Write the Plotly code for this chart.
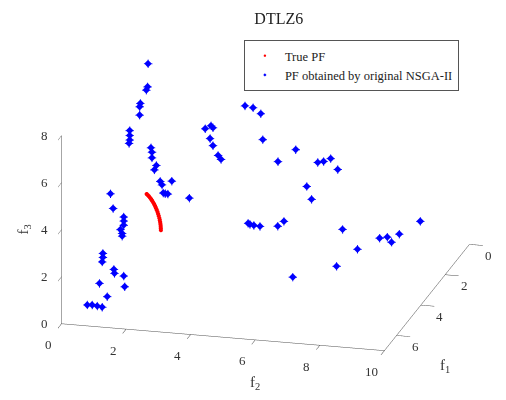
import plotly.graph_objects as go

# True Pareto front of DTLZ6 (quarter arc with f1 = f2)
pf_f1 = [0.7071, 0.7049, 0.6984, 0.6876, 0.6725, 0.6533, 0.6300, 0.6029, 0.5721, 0.5377, 0.5000,
         0.4592, 0.4156, 0.3695, 0.3210, 0.2706, 0.2185, 0.1651, 0.1106, 0.0555, 0.0]
pf_f2 = [0.7071, 0.7049, 0.6984, 0.6876, 0.6725, 0.6533, 0.6300, 0.6029, 0.5721, 0.5377, 0.5000,
         0.4592, 0.4156, 0.3695, 0.3210, 0.2706, 0.2185, 0.1651, 0.1106, 0.0555, 0.0]
pf_f3 = [0.0, 0.0785, 0.1564, 0.2334, 0.3090, 0.3827, 0.4540, 0.5225, 0.5878, 0.6494, 0.7071,
         0.7604, 0.8090, 0.8526, 0.8910, 0.9239, 0.9511, 0.9724, 0.9877, 0.9969, 1.0]

# Final population of the original NSGA-II
ns_f1 = [0.42, 0.72, 0.96, 1.59, 1.64, 1.78, 2.73, 2.73, 2.86, 2.91,
         0.21, 0.26, 0.26, 0.48, 0.38, 0.67, 0.76, 1.25, 0.92, 0.82, 1.05, 2.12,
         4.58, 4.36, 4.55, 4.55, 4.55, 4.55, 4.68, 4.68, 5.47, 5.47, 5.52,
         5.63, 5.58, 5.61, 5.53, 5.48, 5.91, 6.22, 6.08, 5.93, 5.79,
         1.0, 1.0, 1.0,
         0.5, 0.5, 0.5, 0.5, 0.5, 0.5, 0.5,
         1.5, 1.5, 1.5,
         2.0, 2.0, 2.0, 2.0, 2.0, 2.0,
         2.5, 2.5, 2.5, 2.5, 2.5, 2.5,
         4.0, 3.0, 2.0, 2.0,
         1.0, 1.0, 1.0, 1.0, 1.0]
ns_f2 = [0.20, 0.30, 0.35, 0.40, 0.40, 0.45, 0.50, 0.50, 0.55, 0.55,
         0.21, 0.26, 0.26, 0.48, 0.38, 0.67, 0.76, 1.25, 0.92, 0.82, 1.05, 2.12,
         0.60, 0.60, 1.00, 1.00, 1.00, 0.90, 1.00, 1.00, 0.70, 0.70, 0.70,
         1.10, 1.10, 1.40, 1.40, 0.60, 1.00, 0.50, 0.60, 0.70, 0.80,
         3.42, 3.67, 3.91,
         2.00, 2.18, 2.24, 2.15, 2.24, 2.40, 2.49,
         4.16, 4.63, 5.18,
         6.05, 6.23, 6.45, 6.67, 5.71, 5.86,
         4.08, 4.14, 4.26, 4.45, 5.00, 5.19,
         6.03, 7.01, 6.82, 7.28,
         7.59, 7.83, 7.96, 8.20, 8.85]
ns_f3 = [6.84, 6.06, 6.08, 5.93, 5.82, 5.56, 5.52, 5.31, 5.21, 5.10,
         3.13, 2.98, 2.74, 2.58, 2.32, 2.05, 1.97, 2.50, 1.72, 1.67, 1.80, 2.44,
         4.04, 3.27, 3.08, 2.91, 2.73, 2.53, 2.46, 2.35, 2.09, 1.92, 1.76,
         1.56, 1.36, 1.30, 0.79, 0.81, 0.57, 0.36, 0.28, 0.15, 0.02,
         5.79, 5.74, 5.51,
         4.33, 4.48, 4.40, 3.93, 3.64, 3.24, 3.08,
         4.76, 3.88, 4.45,
         4.33, 4.39, 4.54, 4.10, 3.27, 2.74,
         1.84, 1.80, 1.77, 1.75, 1.82, 2.05,
         0.74, 0.67, 1.57, 0.78,
         0.64, 0.71, 0.51, 0.88, 1.50]

f1_ticks = [0, 2, 4, 6]
f2_ticks = [0, 2, 4, 6, 8, 10]
f3_ticks = [0, 2, 4, 6, 8]
F1_MAX, F2_MAX, F3_MAX = 7, 10, 8

serif = "Liberation Serif"
axis_color = "#4d4d4d"
text_color = "#333333"

fig = go.Figure()
fig.add_trace(go.Scatter3d(
    x=pf_f1, y=pf_f2, z=pf_f3, mode="markers", name="True PF",
    marker=dict(symbol="circle", size=2.4, color="#ff0000", line=dict(width=0)),
))
fig.add_trace(go.Scatter3d(
    x=ns_f1, y=ns_f2, z=ns_f3, mode="markers", name="PF obtained by original NSGA-II",
    marker=dict(symbol="diamond", size=2.5, color="#0000ff", line=dict(width=0)),
))
# star-shaped overlay so each marker reads like an asterisk
fig.add_trace(go.Scatter3d(
    x=ns_f1, y=ns_f2, z=ns_f3, mode="markers", showlegend=False, hoverinfo="skip",
    marker=dict(symbol="cross", size=4.6, color="#0000ff", line=dict(width=0)),
))


def axis(rng, ticks):
    return dict(
        title=dict(text=""),
        range=rng, tickvals=ticks, autorange=False,
        showticklabels=False,
        showgrid=False, zeroline=False, showbackground=False, showspikes=False,
        showline=True, linecolor=axis_color, linewidth=1,
        ticks="outside", ticklen=14, tickwidth=1, tickcolor="#333333",
    )


tick_font = dict(family=serif, size=13, color=text_color)
title_font = dict(family=serif, size=15, color=text_color)
annotations = []
for v in f3_ticks:
    annotations.append(dict(x=F1_MAX, y=0, z=v, text=str(v), showarrow=False,
                            xanchor="right", yanchor="middle", xshift=-12, font=tick_font))
for v in f2_ticks:
    annotations.append(dict(x=F1_MAX, y=v, z=0, text=str(v), showarrow=False,
                            xanchor="center", yanchor="middle", xshift=-13, yshift=-21,
                            font=tick_font))
for v in f1_ticks:
    annotations.append(dict(x=v, y=F2_MAX, z=0, text=str(v), showarrow=False,
                            xanchor="center", yanchor="middle", xshift=19, yshift=-11,
                            font=tick_font))
annotations.append(dict(x=F1_MAX, y=0, z=F3_MAX / 2, text="f<sub>3</sub>", showarrow=False,
                        xanchor="center", yanchor="middle", xshift=-38, textangle=-90,
                        font=title_font))
annotations.append(dict(x=F1_MAX, y=F2_MAX / 2, z=0, text="f<sub>2</sub>", showarrow=False,
                        xanchor="center", yanchor="middle", xshift=32, yshift=-46,
                        font=title_font))
annotations.append(dict(x=F1_MAX / 2, y=F2_MAX, z=0, text="f<sub>1</sub>", showarrow=False,
                        xanchor="center", yanchor="middle", xshift=18, yshift=-68,
                        font=title_font))

zoom = 1.755
fig.update_layout(
    width=506, height=400,
    margin=dict(l=0, r=0, t=0, b=0),
    paper_bgcolor="white",
    title=dict(text="DTLZ6", x=0.551, xanchor="center", y=0.955, yanchor="middle",
               font=dict(family=serif, size=16, color="#222222")),
    scene=dict(
        domain=dict(x=[0.05, 1.0], y=[0.05, 1.0]),
        xaxis=axis([0, F1_MAX], f1_ticks),
        yaxis=axis([0, F2_MAX], f2_ticks),
        zaxis=axis([0, F3_MAX], f3_ticks),
        aspectmode="manual",
        aspectratio=dict(x=1.02 * zoom, y=1.0 * zoom, z=0.596 * zoom),
        camera=dict(
            projection=dict(type="orthographic"),
            up=dict(x=0, y=0, z=1),
            center=dict(x=0, y=0, z=0),
            eye=dict(x=0.9162 * 5, y=0.2366 * 5, z=0.3227 * 5),
        ),
        annotations=annotations,
    ),
    legend=dict(
        x=0.482, y=0.9, xanchor="left", yanchor="top",
        bgcolor="white", bordercolor="#555555", borderwidth=1,
        font=dict(family=serif, size=12.5, color="#222222"),
        itemsizing="trace", tracegroupgap=0,
    ),
)

fig.write_html("out.html")
